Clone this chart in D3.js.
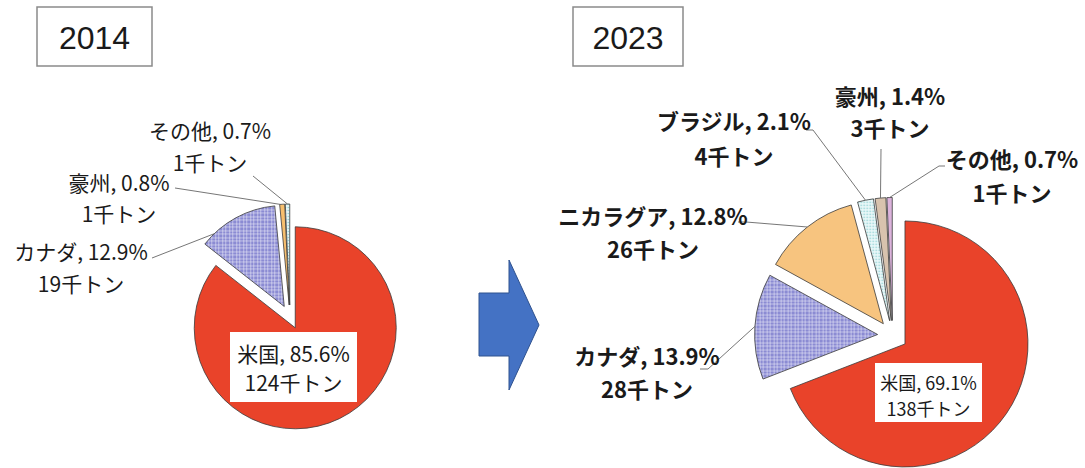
<!DOCTYPE html>
<html>
<head>
<meta charset="UTF-8">
<style>
  body { margin: 0; background: #fff; }
  svg { display: block; }
  text { font-family: "Noto Sans CJK JP", "DejaVu Sans", sans-serif; fill: #1a1a1a; }
  text.title { font-family: "Liberation Sans", Arial, sans-serif; }
</style>
</head>
<body>
<svg id="chart"></svg>
<script src="https://cdn.jsdelivr.net/npm/d3@7"></script>
<script>
// data
const years = ["2014", "2023"];
const countries2014 = ["米国", "カナダ", "豪州", "その他"];
const share2014 = [85.6, 12.9, 0.8, 0.7];
const tons2014 = [124, 19, 1, 1];
const countries2023 = ["米国", "カナダ", "ニカラグア", "ブラジル", "豪州", "その他"];
const share2023 = [69.1, 13.9, 12.8, 2.1, 1.4, 0.7];
const tons2023 = [138, 28, 26, 4, 3, 1];

// fills by slice order (excel style)
const fills = ["#e9432a", "url(#hatch)", "#f7c47f", "url(#dots)", "#d8c3ae", "#dcb3dc"];
const fills2014 = ["#e9432a", "url(#hatch)", "#f7bf6e", "url(#dots)"];

const width = 1085, height = 468;
const svg = d3.select("#chart").attr("width", width).attr("height", height);

const defs = svg.append("defs");
let hatch = defs.append("pattern").attr("id", "hatch")
    .attr("patternUnits", "userSpaceOnUse").attr("width", 7).attr("height", 7);
hatch.append("rect").attr("width", 7).attr("height", 7).attr("fill", "#8b8bd3");
[1, 4].forEach(p => {
  hatch.append("rect").attr("x", p).attr("y", 0).attr("width", 1).attr("height", 7).attr("fill", "#fff").attr("opacity", 0.45);
  hatch.append("rect").attr("x", 0).attr("y", p).attr("width", 7).attr("height", 1).attr("fill", "#fff").attr("opacity", 0.45);
});
let dots = defs.append("pattern").attr("id", "dots")
    .attr("patternUnits", "userSpaceOnUse").attr("width", 3).attr("height", 3);
dots.append("rect").attr("width", 3).attr("height", 3).attr("fill", "#e8f7f8");
dots.append("circle").attr("cx", 1.5).attr("cy", 1.5).attr("r", 0.75).attr("fill", "#86cdd1");

// title boxes
const titleBoxes = [{x: 37, y: 7, w: 115, h: 59}, {x: 573, y: 7, w: 110, h: 59}];
titleBoxes.forEach((b, i) => {
  svg.append("rect").attr("x", b.x).attr("y", b.y).attr("width", b.w).attr("height", b.h)
    .attr("fill", "#fff").attr("stroke", "#8a8a8a").attr("stroke-width", 1.5);
  svg.append("text").attr("class", "title").attr("x", b.x + b.w / 2).attr("y", b.y + b.h / 2 + 1)
    .attr("text-anchor", "middle").attr("dominant-baseline", "central")
    .attr("font-size", 32).text(years[i]);
});

// arrow
svg.append("path")
  .attr("d", "M479,293 L509,293 L509,260 L539,325 L509,390 L509,356 L479,356 Z")
  .attr("fill", "#4472c4").attr("stroke", "#2f528f").attr("stroke-width", 1);

function drawPie(cfg) {
  const data = cfg.names.map((n, i) => ({name: n, share: cfg.share[i], tons: cfg.tons[i], i: i}));
  const pie = d3.pie().sort(null).value(d => d.share);
  const arcs = pie(data);
  const arc = d3.arc().innerRadius(0).outerRadius(cfg.r);
  const g = svg.append("g").attr("transform", `translate(${cfg.cx},${cfg.cy})`);

  arcs.forEach(a => {
    const mid = (a.startAngle + a.endAngle) / 2;
    a.ox = cfg.explode * Math.sin(mid);
    a.oy = -cfg.explode * Math.cos(mid);
  });

  g.selectAll("path.slice").data(arcs).enter().append("path")
    .attr("class", "slice")
    .attr("transform", d => `translate(${d.ox},${d.oy})`)
    .attr("d", arc)
    .attr("fill", d => cfg.fills[d.index])
    .attr("stroke", "#3a3a3a").attr("stroke-width", 0.8);

  // leader lines + labels
  arcs.forEach(a => {
    const lay = cfg.layout[a.index];
    if (!lay) return;
    const t = lay.t == null ? 0.5 : lay.t;
    const ang = a.startAngle + (a.endAngle - a.startAngle) * t;
    const ex = cfg.cx + a.ox + cfg.r * Math.sin(ang);
    const ey = cfg.cy + a.oy - cfg.r * Math.cos(ang);
    const pts = lay.lead.concat([[ex, ey]]);
    svg.append("path").attr("d", d3.line()(pts))
      .attr("fill", "none").attr("stroke", "#666").attr("stroke-width", 0.9);
    const txt = svg.append("text").attr("text-anchor", "middle")
      .attr("font-size", cfg.fontSize).attr("font-weight", cfg.weight);
    txt.append("tspan").attr("x", lay.x).attr("y", lay.y1).attr("dominant-baseline", "central")
      .text(`${a.data.name}, ${a.data.share.toFixed(1)}%`);
    txt.append("tspan").attr("x", lay.x).attr("y", lay.y2).attr("dominant-baseline", "central")
      .text(`${a.data.tons}千トン`);
  });

  // boxed main label
  const m = arcs[0], b = cfg.box;
  svg.append("rect").attr("x", b.x).attr("y", b.y).attr("width", b.w).attr("height", b.h).attr("fill", "#fff");
  const mt = svg.append("text").attr("text-anchor", "middle").attr("font-size", b.fs);
  mt.append("tspan").attr("x", b.x + b.w / 2).attr("y", b.y1).attr("dominant-baseline", "central")
    .text(`${m.data.name}, ${m.data.share.toFixed(1)}%`);
  mt.append("tspan").attr("x", b.x + b.w / 2).attr("y", b.y2).attr("dominant-baseline", "central")
    .text(`${m.data.tons}千トン`);
}

drawPie({
  names: countries2014, share: share2014, tons: tons2014, fills: fills2014,
  cx: 290, cy: 317, r: 101, explode: 12, fontSize: 21, weight: "normal",
  box: {x: 230, y: 332, w: 127, h: 70, y1: 353, y2: 382, fs: 21},
  layout: [null,
    {x: 81, y1: 251, y2: 283, lead: [[152, 258]], t: 0.17},
    {x: 119, y1: 182, y2: 213, lead: [[175, 188]], t: 0.15},
    {x: 210, y1: 130, y2: 162, lead: [[253, 176]]}]
});

drawPie({
  names: countries2023, share: share2023, tons: tons2023, fills: fills,
  cx: 892.6, cy: 335.5, r: 123, explode: 15, fontSize: 22, weight: "bold",
  box: {x: 875, y: 363, w: 107, h: 59, y1: 382, y2: 408, fs: 18},
  layout: [null,
    {x: 647, y1: 355, y2: 388, lead: [[700, 369], [708, 369]]},
    {x: 653, y1: 215, y2: 248, lead: [[738, 222], [746, 222]]},
    {x: 734, y1: 120, y2: 155, lead: [[806, 130], [813, 130]]},
    {x: 890, y1: 95, y2: 127, lead: [[881, 149]]},
    {x: 1012, y1: 158, y2: 192, lead: [[945, 166], [939, 166]]}]
});
</script>
</body>
</html>
